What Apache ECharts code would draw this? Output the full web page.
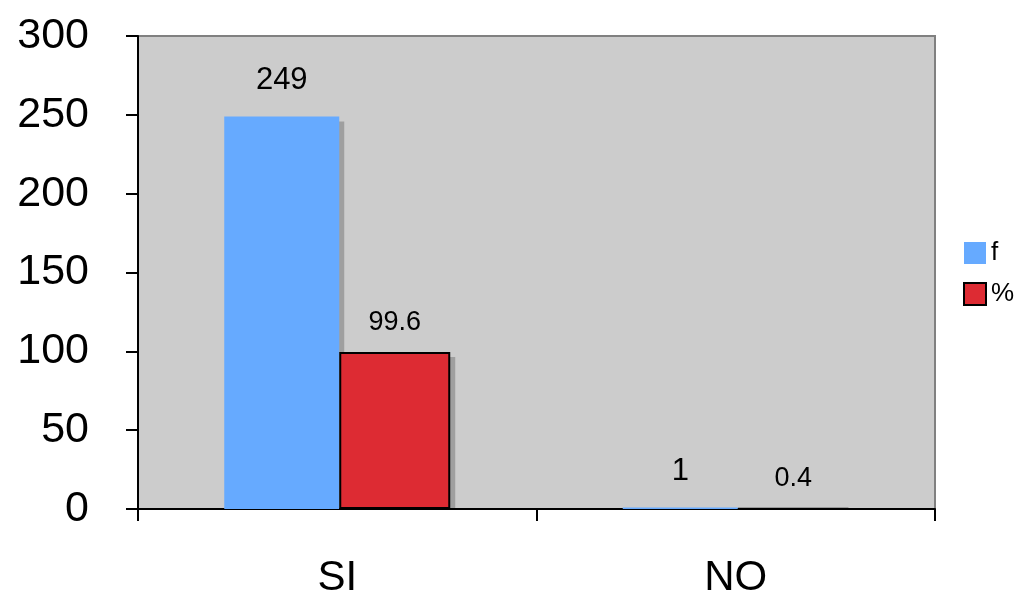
<!DOCTYPE html>
<html>
<head>
<meta charset="utf-8">
<script src="https://cdn.jsdelivr.net/npm/echarts@6/dist/echarts.min.js"></script>
<style>html,body{margin:0;padding:0;background:#fff;}#c{width:1018px;height:591px;}</style>
</head>
<body>
<div id="c"></div>
<script>
const categories = ['SI', 'NO'];
const seriesNames = ['f', '%'];
const fValues = [249, 1];
const pctValues = [99.6, 0.4];
const yTicks = { min: 0, max: 300, interval: 50 };

const BW_F = 115, BW_P = 111, SH = 5;
const font = 'Liberation Sans, Arial, sans-serif';

function shadowItem(barIndex) {
  return function (params, api) {
    const idx = api.value(0);
    const val = api.value(1);
    const top = api.coord([idx, val]);
    const base = api.coord([idx, 0]);
    const total = BW_F + BW_P;
    const left0 = base[0] - total / 2;
    const x = barIndex === 0 ? left0 : left0 + BW_F;
    const w = barIndex === 0 ? BW_F : BW_P;
    const y = top[1] + SH;
    const h = Math.max(0, base[1] - y - 1);
    return { type: 'rect', shape: { x: x + SH, y: y, width: w, height: h }, style: { fill: '#9f9f9f' } };
  };
}

const chart = echarts.init(document.getElementById('c'), null, { renderer: 'canvas' });
chart.setOption({
  animation: false,
  backgroundColor: '#ffffff',
  grid: {
    left: 138, right: 83, top: 36, bottom: 82,
    outerBoundsMode: 'none', containLabel: false,
    show: true, backgroundColor: '#cccccc', borderColor: '#808080', borderWidth: 2
  },
  legend: {
    orient: 'vertical', left: 958, top: 235,
    icon: 'rect',
    itemWidth: 22, itemHeight: 22, itemGap: 15,
    textStyle: { fontSize: 26, fontFamily: font, color: '#000' },
    data: seriesNames
  },
  xAxis: {
    type: 'category', data: categories,
    axisLine: { lineStyle: { color: '#000', width: 2 } },
    axisTick: { show: true, length: 12, interval: 0, lineStyle: { color: '#000', width: 2 } },
    axisLabel: { fontSize: 42, fontFamily: font, color: '#000', margin: 48 }
  },
  yAxis: {
    type: 'value', min: yTicks.min, max: yTicks.max, interval: yTicks.interval,
    splitLine: { show: false },
    axisLine: { show: true, lineStyle: { color: '#000', width: 2 } },
    axisTick: { show: true, length: 12, lineStyle: { color: '#000', width: 2 } },
    axisLabel: { fontSize: 43, fontFamily: font, color: '#000', margin: 49 }
  },
  series: [
    {
      type: 'custom', z: 1, silent: true,
      renderItem: shadowItem(0),
      data: fValues.map((v, i) => [i, v])
    },
    {
      type: 'custom', z: 1, silent: true,
      renderItem: shadowItem(1),
      data: pctValues.map((v, i) => [i, v])
    },
    {
      name: seriesNames[0], type: 'bar', data: fValues, z: 3,
      barWidth: BW_F, barGap: '0%',
      itemStyle: { color: '#66aaff' },
      label: { show: true, position: 'top', distance: 20, fontSize: 31, fontFamily: font, color: '#000' }
    },
    {
      name: seriesNames[1], type: 'bar', data: pctValues, z: 3,
      barWidth: BW_P, barGap: '0%',
      itemStyle: { color: '#dd2b33', borderColor: '#000', borderWidth: 2 },
      label: { show: true, position: 'top', distance: 16, fontSize: 27, fontFamily: font, color: '#000' }
    }
  ]
});
</script>
</body>
</html>
